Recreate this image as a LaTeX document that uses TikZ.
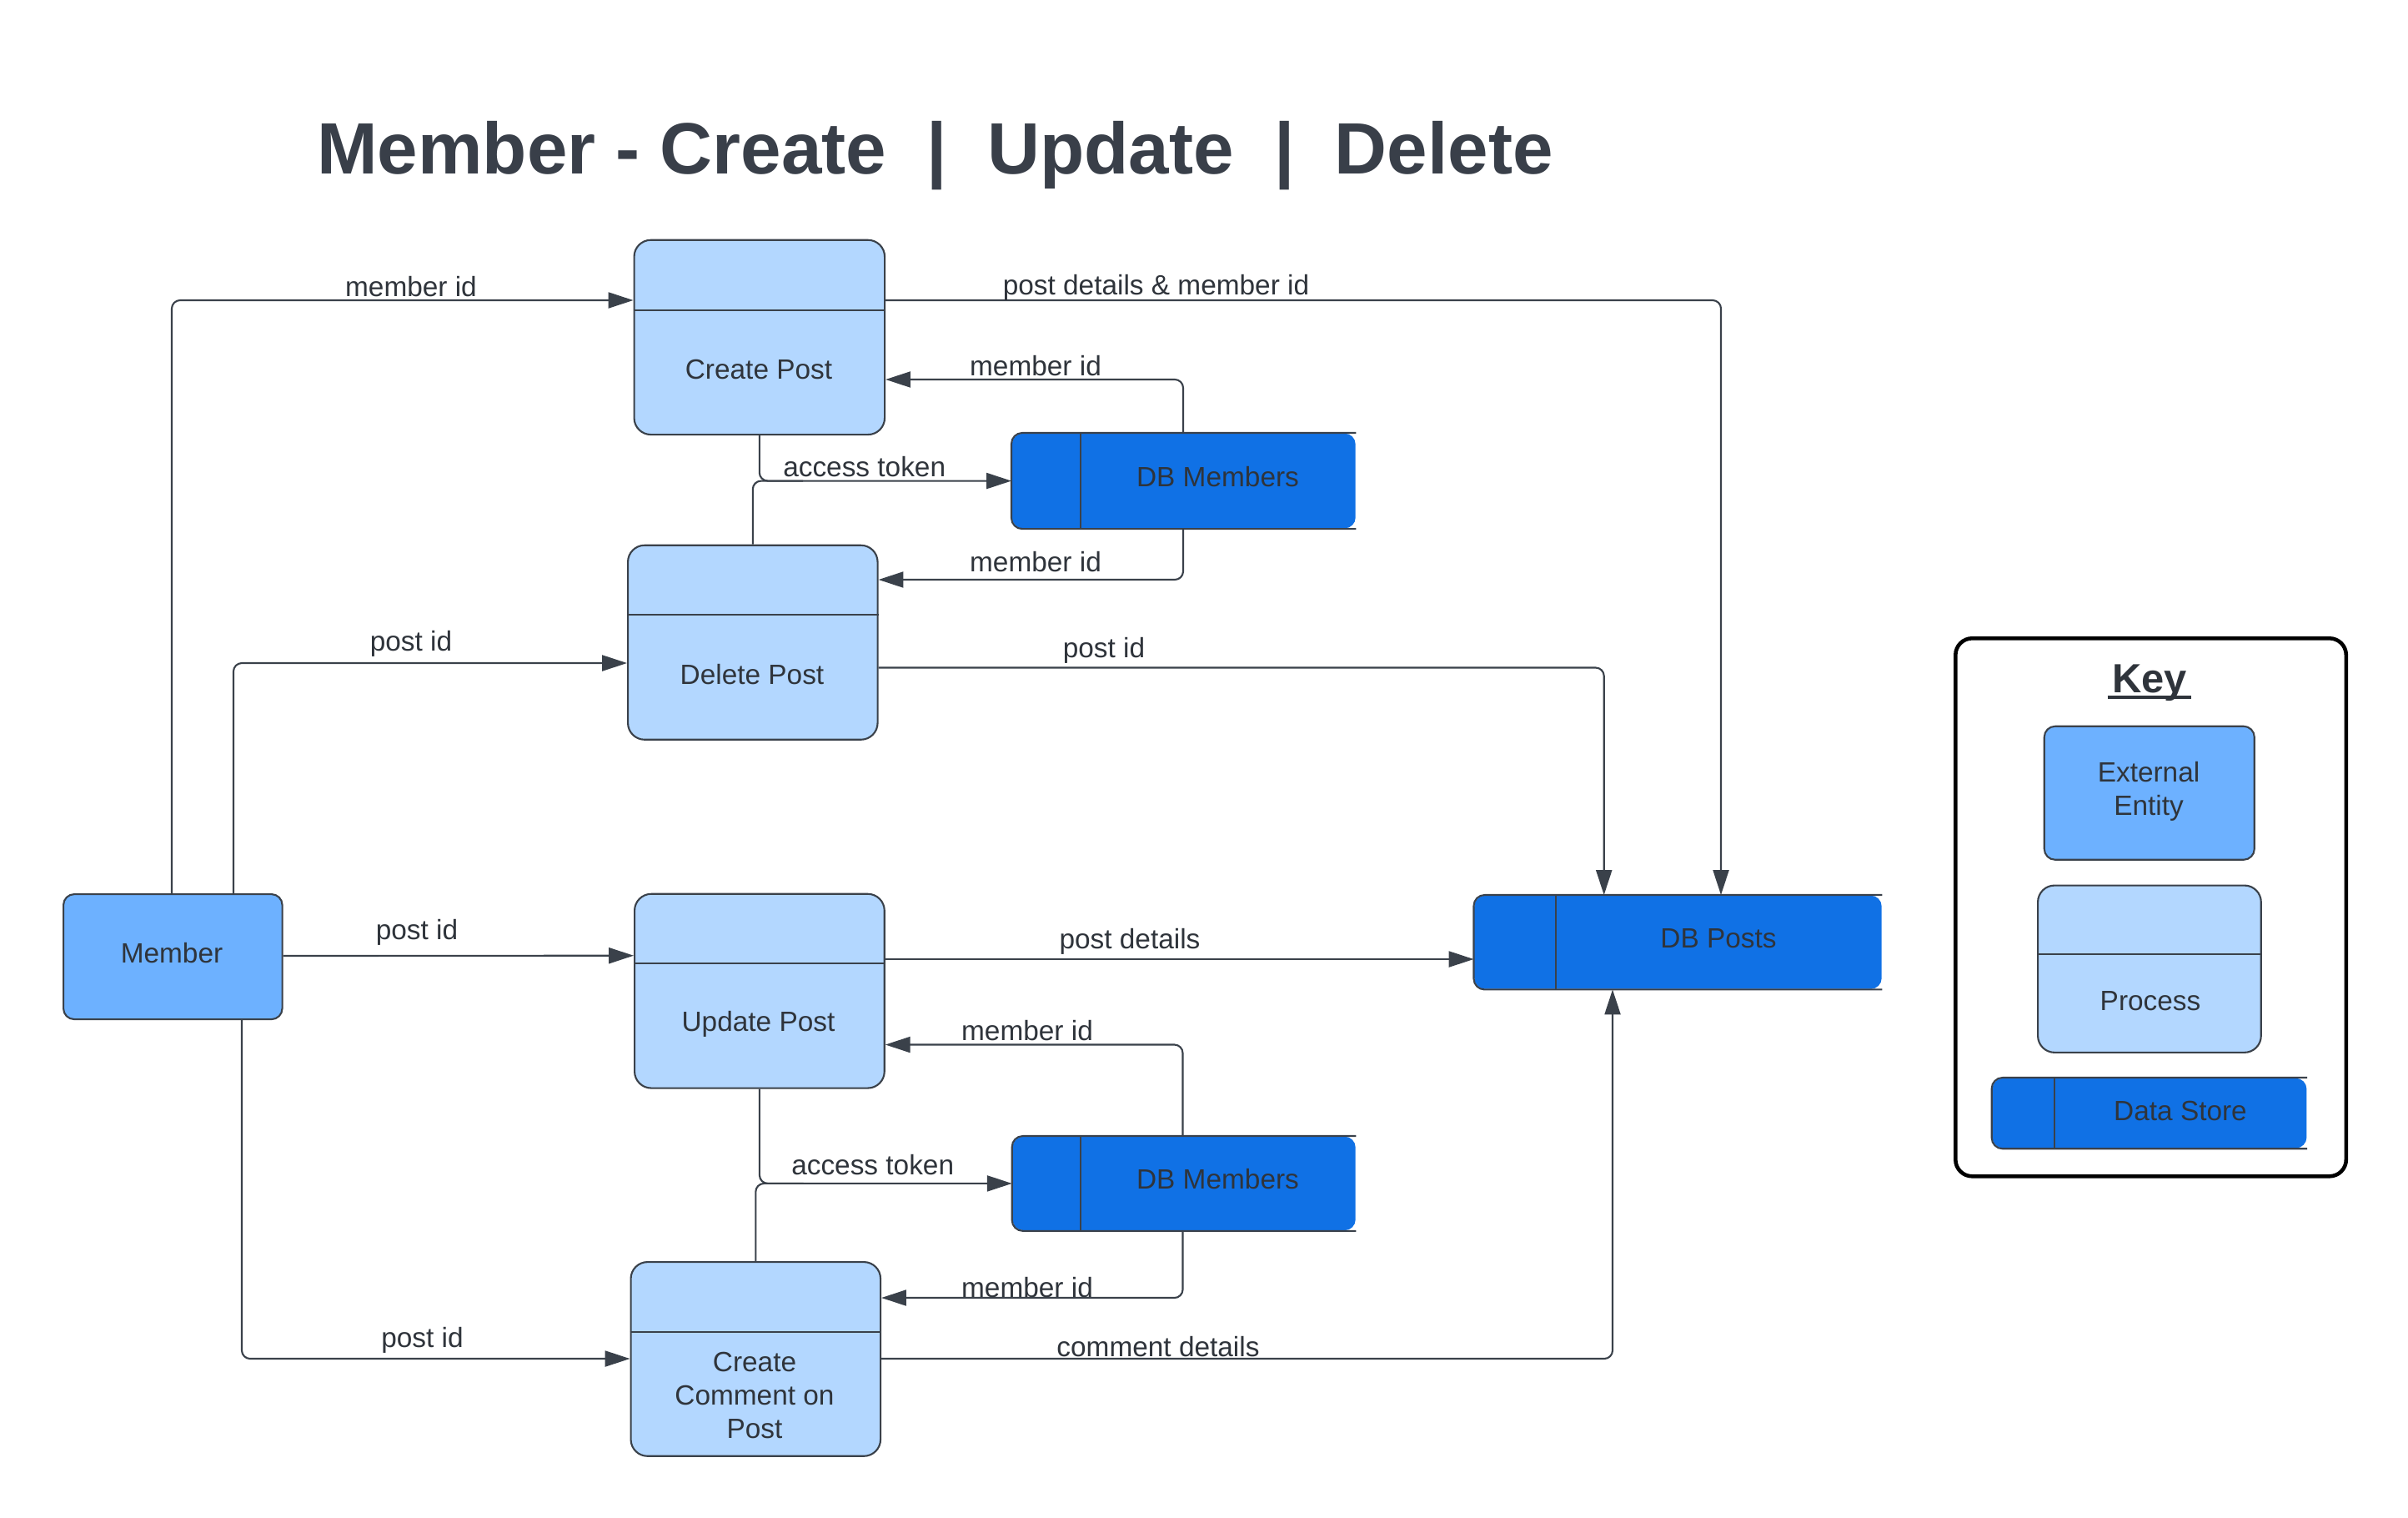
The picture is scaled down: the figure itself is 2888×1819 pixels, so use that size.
\documentclass[tikz,border=0pt]{standalone}
\usepackage{fontspec}
\setmainfont{Liberation Sans}
\usetikzlibrary{arrows.meta,calc}
\definecolor{entity}{HTML}{6DB1FF}
\definecolor{procfill}{HTML}{B3D7FF}
\definecolor{storefill}{HTML}{1071E5}
\definecolor{edgec}{HTML}{3A414A}
\definecolor{txt}{HTML}{2F343B}
\definecolor{titlec}{HTML}{393F49}
\begin{document}
\begin{tikzpicture}[x=0.1mm,y=-0.1mm,
  every node/.style={font=\fontsize{9.5}{11.4}\selectfont, text=txt, inner sep=0pt},
  entitybox/.style={draw=edgec, line width=0.6pt, fill=entity, rounded corners=1.3mm, anchor=north west},
  procbox/.style={draw=edgec, line width=0.6pt, fill=procfill, rounded corners=2mm, anchor=north west},
  storebox/.style={fill=storefill, rounded corners=1.3mm, anchor=north west},
  storeline/.style={draw=edgec, line width=0.6pt, rounded corners=1.3mm},
  divline/.style={draw=edgec, line width=0.6pt},
  flow/.style={draw=edgec, line width=0.6pt, rounded corners=1mm, -{Triangle[length=8.5pt,width=5.4pt]}},
  plainflow/.style={draw=edgec, line width=0.6pt, rounded corners=1mm},
  lbl/.style={anchor=base},
  boxtext/.style={align=center},
]
\useasboundingbox (0,0) rectangle (2888,1819);
\fill[white] (0,0) rectangle (2888,1819);

% Title
\node[anchor=base west, font=\fontsize{24.8}{29}\selectfont\bfseries, text=titlec] (title) at (379.5,208) {Member - Create\ \ |\ \ Update\ \ |\ \ Delete};

% External entity
\node[entitybox, minimum width=26.25mm, minimum height=15mm] (mem) at (75,1071) {};
\node[boxtext] (memt) at (206,1143) {Member};

% Processes
\node[procbox, minimum width=30.05mm, minimum height=23.33mm] (cp) at (759.5,286.7) {};
\draw[divline] ([yshift=-8.5mm]cp.north west) -- ([yshift=-8.5mm]cp.north east);
\node[boxtext] (cpt) at (910,443) {Create Post};

\node[procbox, minimum width=29.95mm, minimum height=23.3mm] (dp) at (752,652.7) {};
\draw[divline] ([yshift=-8.43mm]dp.north west) -- ([yshift=-8.43mm]dp.north east);
\node[boxtext] (dpt) at (902,809) {Delete Post};

\node[procbox, minimum width=29.97mm, minimum height=23.28mm] (up) at (760,1070.7) {};
\draw[divline] ([yshift=-8.46mm]up.north west) -- ([yshift=-8.46mm]up.north east);
\node[boxtext] (upt) at (909.5,1227.5) {Update Post};

\node[procbox, minimum width=29.95mm, minimum height=23.27mm] (cc) at (755.5,1512) {};
\draw[divline] ([yshift=-8.48mm]cc.north west) -- ([yshift=-8.48mm]cc.north east);
\node[boxtext] (cct) at (905,1673) {Create\\Comment on\\Post};

% Data stores
\node[storebox, minimum width=41.2mm, minimum height=11.37mm] (dbm1) at (1213,519) {};
\draw[storeline] (dbm1.north east) -- (dbm1.north west) -- (dbm1.south west) -- (dbm1.south east);
\draw[divline] ([xshift=8.3mm]dbm1.north west) -- ([xshift=8.3mm]dbm1.south west);
\node (dbm1t) at (1460.5,572) {DB Members};

\node[storebox, minimum width=41.13mm, minimum height=11.24mm] (dbm2) at (1213.7,1362) {};
\draw[storeline] (dbm2.north east) -- (dbm2.north west) -- (dbm2.south west) -- (dbm2.south east);
\draw[divline] ([xshift=8.23mm]dbm2.north west) -- ([xshift=8.23mm]dbm2.south west);
\node (dbm2t) at (1460.5,1414) {DB Members};

\node[storebox, minimum width=48.85mm, minimum height=11.2mm] (dbp) at (1767.5,1073) {};
\draw[storeline] (dbp.north east) -- (dbp.north west) -- (dbp.south west) -- (dbp.south east);
\draw[divline] ([xshift=9.85mm]dbp.north west) -- ([xshift=9.85mm]dbp.south west);
\node (dbpt) at (2061,1125.5) {DB Posts};

% Connectors
\draw[flow] ([xshift=13.1mm]mem.north west) |- ([yshift=-7.33mm]cp.north west);
\node[lbl] (l1) at (493,355) {member id};

\draw[flow] ([xshift=20.5mm]mem.north west) |- ([yshift=-14.23mm]dp.north west);
\node[lbl] (l2) at (493,780.5) {post id};

\draw[flow] ([yshift=-7.5mm]mem.north east) -- ([yshift=-7.5mm]up.north west);
\node[lbl] (l3) at (500,1126.5) {post id};

\draw[flow] ([xshift=21.5mm]mem.south west) |- ([yshift=-11.7mm]cc.north west);
\node[lbl] (l4) at (506.5,1615.5) {post id};

\draw[flow] ([yshift=-7.33mm]cp.north east) -| ([xshift=29.65mm]dbp.north west);
\node[lbl] (l5) at (1386.5,353.5) {post details \& member id};

\draw[flow] ([xshift=20.6mm]dbm1.north west) |- ([yshift=-16.83mm]cp.north east);
\node[lbl] (l6) at (1242,450) {member id};

\draw[flow] (cp.south) |- (dbm1.west);
\draw[plainflow] (dp.north) |- ($(dbm1.west)+(-250,0)$);
\node[lbl] (l7) at (1036.7,571.5) {access token};

\draw[flow] ([xshift=20.6mm]dbm1.south west) |- ([yshift=-4.23mm]dp.north east);
\node[lbl] (l8) at (1242,685) {member id};

\draw[flow] ([yshift=-14.78mm]dp.north east) -| ([xshift=15.62mm]dbp.north west);
\node[lbl] (l9) at (1324,788.5) {post id};

\draw[flow] ([yshift=-7.93mm]up.north east) coordinate (upo) -- (upo -| dbp.west);
\node[lbl] (l10) at (1355,1137) {post details};

\draw[flow] ([xshift=20.48mm]dbm2.north west) |- ([yshift=-18.18mm]up.north east);
\node[lbl] (l11) at (1232,1247.5) {member id};

\draw[flow] (up.south) |- (dbm2.west);
\draw[plainflow] (cc.north) |- ($(dbm2.west)+(-250,0)$);
\node[lbl] (l12) at (1046.7,1408) {access token};

\draw[flow] ([xshift=20.48mm]dbm2.south west) |- ([yshift=-4.4mm]cc.north east);
\node[lbl] (l13) at (1232,1555.5) {member id};

\draw[flow] ([yshift=-11.7mm]cc.north east) -| ([xshift=16.65mm]dbp.south west);
\node[lbl] (l14) at (1389,1626) {comment details};

% Key
\node[draw=black, line width=1.3pt, rounded corners=2mm, anchor=north west, minimum width=46.85mm, minimum height=64.5mm] (key) at (2343,763) {};
\node[anchor=base, font=\fontsize{13.9}{16}\selectfont\bfseries] (keyt) at (2578,830) {Key};
\draw[txt, line width=0.9pt] ([xshift=-0.5mm,yshift=-0.6mm]keyt.base west) -- ([xshift=0.4mm,yshift=-0.6mm]keyt.base east);

\node[entitybox, minimum width=25.2mm, minimum height=16mm] (kee) at (2450.7,869.7) {};
\node[boxtext] (keet) at (2577,949) {External\\Entity};

\node[procbox, minimum width=26.77mm, minimum height=20.03mm] (kpr) at (2443,1060.5) {};
\draw[divline] ([yshift=-8.33mm]kpr.north west) -- ([yshift=-8.33mm]kpr.north east);
\node[boxtext] (kprt) at (2579,1200) {Process};

\node[storebox, minimum width=37.7mm, minimum height=8.38mm] (kds) at (2388.7,1292) {};
\draw[storeline] (kds.north east) -- (kds.north west) -- (kds.south west) -- (kds.south east);
\draw[divline] ([xshift=7.53mm]kds.north west) -- ([xshift=7.53mm]kds.south west);
\node (kdst) at (2615,1331.5) {Data Store};
\end{tikzpicture}
\end{document}
